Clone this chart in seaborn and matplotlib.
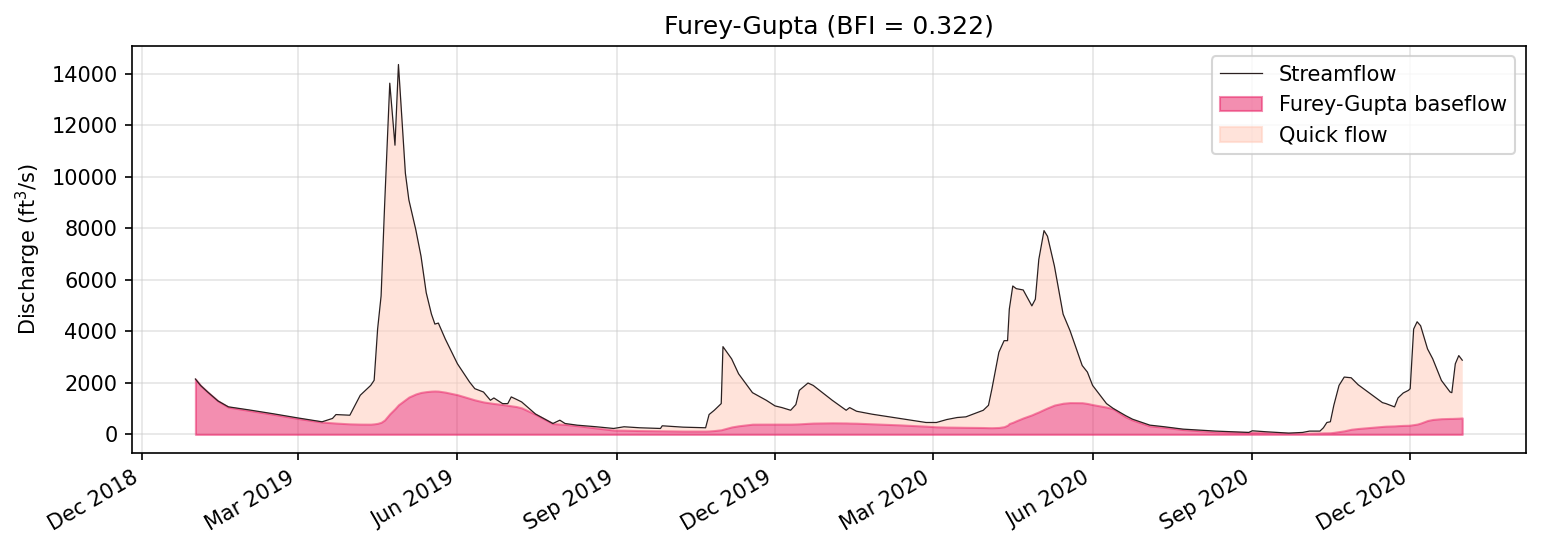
import pandas as pd
import matplotlib
matplotlib.use("Agg")
import matplotlib.pyplot as plt
import matplotlib.dates as mdates
from matplotlib.patches import Patch
from matplotlib.lines import Line2D
import seaborn as sns

# ---------------------------
# Data
# ---------------------------

dates = [
    "2019-01-01", "2019-01-04", "2019-01-08", "2019-01-14", "2019-01-20", "2019-02-01",
    "2019-02-15", "2019-03-01", "2019-03-15", "2019-03-21", "2019-03-23", "2019-03-31",
    "2019-04-06", "2019-04-12", "2019-04-14", "2019-04-16", "2019-04-18", "2019-04-20",
    "2019-04-23", "2019-04-26", "2019-04-28", "2019-05-02", "2019-05-04", "2019-05-08",
    "2019-05-11", "2019-05-14", "2019-05-17", "2019-05-19", "2019-05-21", "2019-05-25",
    "2019-06-01", "2019-06-08", "2019-06-11", "2019-06-16", "2019-06-20", "2019-06-22",
    "2019-06-27", "2019-06-30", "2019-07-02", "2019-07-05", "2019-07-08", "2019-07-16",
    "2019-07-26", "2019-07-30", "2019-08-02", "2019-08-09", "2019-08-20", "2019-08-30",
    "2019-09-05", "2019-09-14", "2019-09-26", "2019-09-27", "2019-10-09", "2019-10-22",
    "2019-10-24", "2019-10-27", "2019-10-31", "2019-11-01", "2019-11-06", "2019-11-10",
    "2019-11-18", "2019-11-26", "2019-12-01", "2019-12-05", "2019-12-10", "2019-12-13",
    "2019-12-15", "2019-12-20", "2019-12-23", "2020-01-03", "2020-01-11", "2020-01-13",
    "2020-01-17", "2020-01-26", "2020-02-11", "2020-02-26", "2020-03-03", "2020-03-09",
    "2020-03-15", "2020-03-20", "2020-03-30", "2020-04-02", "2020-04-04", "2020-04-08",
    "2020-04-11", "2020-04-13", "2020-04-14", "2020-04-16", "2020-04-18", "2020-04-22",
    "2020-04-27", "2020-04-29", "2020-05-01", "2020-05-04", "2020-05-06", "2020-05-10",
    "2020-05-15", "2020-05-19", "2020-05-26", "2020-05-29", "2020-06-01", "2020-06-09",
    "2020-06-13", "2020-06-20", "2020-06-24", "2020-07-04", "2020-07-12", "2020-07-23",
    "2020-08-11", "2020-08-30", "2020-09-01", "2020-09-09", "2020-09-22", "2020-09-30",
    "2020-10-04", "2020-10-10", "2020-10-12", "2020-10-14", "2020-10-16", "2020-10-18",
    "2020-10-21", "2020-10-24", "2020-10-28", "2020-11-01", "2020-11-08", "2020-11-15",
    "2020-11-17", "2020-11-22", "2020-11-24", "2020-11-27", "2020-11-30", "2020-12-01",
    "2020-12-03", "2020-12-05", "2020-12-07", "2020-12-11", "2020-12-14", "2020-12-19",
    "2020-12-24", "2020-12-25", "2020-12-27", "2020-12-29", "2020-12-31",
]

streamflow = [
    2150, 1900, 1650, 1300, 1070, 950,
    800, 640, 490, 620, 770, 745,
    1520, 1900, 2100, 4090, 5370, 8840,
    13625, 11220, 14350, 10130, 9100, 7940,
    6915, 5500, 4670, 4280, 4320, 3700,
    2740, 2030, 1775, 1645, 1325, 1415,
    1195, 1195, 1455, 1360, 1260, 790,
    424, 552, 424, 359, 297, 231,
    297, 258, 231, 335, 282, 258,
    771, 937, 1196, 3405, 2931, 2352,
    1620, 1323, 1106, 1041, 937, 1157,
    1709, 1994, 1901, 1323, 937, 1041,
    899, 784, 617, 463, 463, 578,
    656, 682, 937, 1130, 1774, 3189,
    3637, 3637, 4859, 5758, 5655, 5604,
    4987, 5245, 6788, 7906, 7688, 6529,
    4666, 4023, 2673, 2418, 1901, 1196,
    1003, 730, 591, 360, 300, 206,
    129, 77, 141, 103, 51, 77,
    129, 129, 258, 463, 490, 1130,
    1901, 2225, 2198, 1928, 1581, 1234,
    1196, 1068, 1415, 1608, 1709, 1774,
    4088, 4370, 4216, 3317, 2931, 2094,
    1646, 1620, 2738, 3058, 2880,
]

baseflow = [
    2150, 1900, 1650, 1300, 1060, 930,
    780, 620, 480, 450, 440, 410,
    400, 398, 410, 430, 470, 560,
    800, 1000, 1150, 1350, 1450, 1570,
    1630, 1660, 1680, 1685, 1680, 1640,
    1540, 1400, 1340, 1260, 1220, 1200,
    1160, 1130, 1110, 1080, 1030, 780,
    420, 400, 390, 340, 250, 170,
    165, 150, 140, 140, 130, 130,
    135, 150, 180, 200, 290, 335,
    398, 400, 400, 400, 400, 405,
    410, 430, 440, 450, 445, 440,
    435, 411, 370, 320, 295, 285,
    280, 275, 268, 262, 260, 270,
    300, 360, 424, 470, 530, 640,
    760, 820, 875, 970, 1030, 1140,
    1210, 1234, 1230, 1200, 1157, 1060,
    990, 682, 560, 330, 280, 190,
    103, 77, 80, 70, 45, 40,
    45, 55, 60, 62, 64, 80,
    110, 140, 200, 230, 270, 310,
    320, 330, 340, 350, 355, 360,
    380, 400, 440, 540, 580, 610,
    620, 620, 625, 630, 640,
]

bfi = 0.322

df = pd.DataFrame({"Date": pd.to_datetime(dates), "Streamflow": streamflow, "Baseflow": baseflow})

# ---------------------------
# Plot
# ---------------------------

fig, ax = plt.subplots(figsize=(1541 / 150, 551 / 150), dpi=150)
fig.subplots_adjust(left=0.0857, right=0.990, top=0.9165, bottom=0.178)

quick_color = "#ffccbc"
base_color = "#e91e63"

ax.fill_between(df["Date"], df["Baseflow"], df["Streamflow"], color=quick_color, alpha=0.55, linewidth=0)
ax.fill_between(df["Date"], 0, df["Baseflow"], facecolor=base_color, alpha=0.5,
                edgecolor=base_color, linewidth=1.0)
sns.lineplot(data=df, x="Date", y="Streamflow", ax=ax, color="#2b2020", linewidth=0.6)

ax.set_title(f"Furey-Gupta (BFI = {bfi:.3f})", fontsize=12)
ax.set_xlabel("")
ax.set_ylabel("Discharge (ft$^3$/s)", fontsize=10)
ax.grid(True, color="#cccccc", alpha=0.5, linewidth=0.8)
ax.set_axisbelow(True)

ax.xaxis.set_major_locator(mdates.MonthLocator(bymonth=[3, 6, 9, 12]))
ax.xaxis.set_major_formatter(mdates.DateFormatter("%b %Y"))
plt.setp(ax.get_xticklabels(), rotation=30, ha="right")

handles = [
    Line2D([], [], color="#2b2020", linewidth=0.6),
    Patch(facecolor=base_color, alpha=0.5, edgecolor=base_color),
    Patch(facecolor=quick_color, alpha=0.55, edgecolor=quick_color),
]
ax.legend(handles, ["Streamflow", "Furey-Gupta baseflow", "Quick flow"], loc="upper right", fontsize=10)

fig.savefig("out.png", dpi=150)
